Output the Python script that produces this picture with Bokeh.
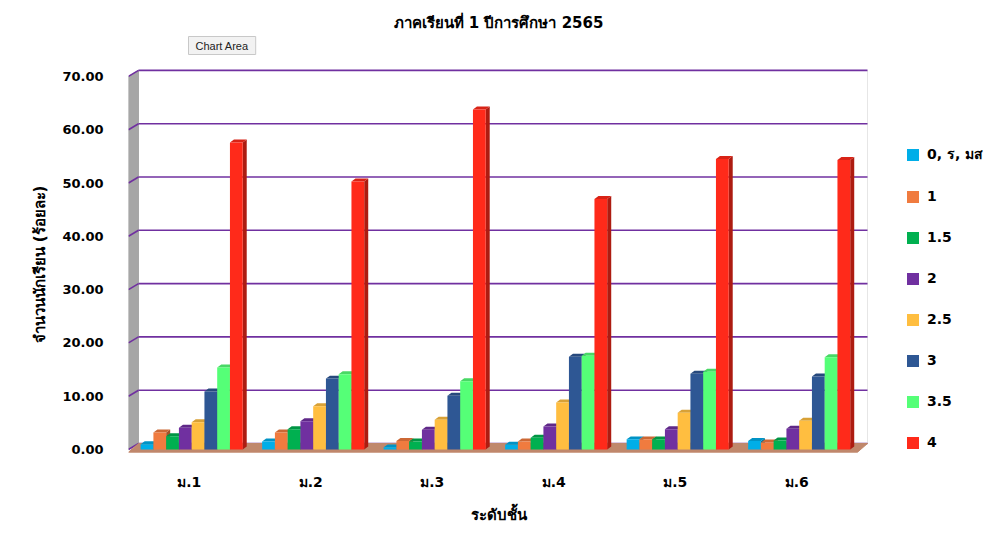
import numpy as np
from bokeh.plotting import figure
from bokeh.layouts import row
from bokeh.models import (Range1d, FixedTicker, PrintfTickFormatter, Legend, LegendItem,
                          Title, ColumnDataSource)
from bokeh.embed import file_html
from bokeh.resources import INLINE

# ---- data ----
categories = ["ม.1", "ม.2", "ม.3", "ม.4", "ม.5", "ม.6"]
series_names = ["0, ร, มส", "1", "1.5", "2", "2.5", "3", "3.5", "4"]
s_0 = [1.0, 1.5, 0.4, 0.9, 1.9, 1.6]
s_1 = [3.2, 3.2, 1.6, 1.5, 1.9, 1.3]
s_15 = [2.5, 3.8, 1.5, 2.2, 1.9, 1.7]
s_2 = [4.1, 5.3, 3.7, 4.3, 3.8, 3.9]
s_25 = [5.1, 8.1, 5.6, 8.8, 6.9, 5.4]
s_3 = [10.9, 13.3, 10.1, 17.4, 14.2, 13.7]
s_35 = [15.4, 14.1, 12.8, 17.6, 14.6, 17.3]
s_4 = [57.6, 50.3, 63.8, 47.0, 54.5, 54.3]
series_values = [s_0, s_1, s_15, s_2, s_25, s_3, s_35, s_4]
y_ticks = [0, 10, 20, 30, 40, 50, 60, 70]

# ---- style ----
colors = ["#00aee8", "#f07b3f", "#00b050", "#7030a0", "#ffbe40", "#2e5794", "#55ff77", "#ff2a1a"]
FONT = "DejaVu Sans"
DX, DY = 0.0823, 1.126          # wall depth offset (data units)
BW = 0.105                      # bar width
B0 = 0.10                       # first bar offset in group
SDX, SDY = 0.033, 0.56          # bar depth
PXU = 5.33                      # pixels per y unit
F_TOP, F_BOT, ZERO = 55, 473, 449   # frame top/bottom and zero line (pixels)


def shade(hexc, f):
    h = hexc.lstrip("#")
    r, g, b = (int(h[i:i + 2], 16) for i in (0, 2, 4))
    return "#%02x%02x%02x" % (int(r * f), int(g * f), int(b * f))


ncat = len(categories)
ymax = y_ticks[-1]

p = figure(width=868, height=539, x_range=Range1d(0, 6.0905),
           y_range=Range1d(-(F_BOT - ZERO) / PXU, (ZERO - F_TOP) / PXU),
           min_border_left=128, min_border_right=0, min_border_top=F_TOP,
           min_border_bottom=539 - F_BOT,
           output_backend="svg", toolbar_location=None)
p.outline_line_color = None
p.background_fill_color = "white"
p.border_fill_color = "white"
p.grid.visible = False

# back wall right edge
p.segment(x0=[ncat + DX], y0=[DY], x1=[ncat + DX], y1=[ymax + DY], line_color="#e6e6e6", line_width=1)

# left wall
p.patch(x=[0, DX, DX, 0], y=[0, DY, ymax + DY, ymax], fill_color="#a6a6a6", line_color="#a6a6a6")

# gridlines (back wall + left wall diagonal)
gy = np.array(y_ticks, dtype=float)
p.segment(x0=[DX] * len(gy), y0=gy + DY, x1=[ncat + DX] * len(gy), y1=gy + DY,
          line_color="#7030a0", line_width=1.6)
p.segment(x0=[0] * len(gy), y0=gy, x1=[DX] * len(gy), y1=gy + DY,
          line_color="#7030a0", line_width=1.6)

# floor
p.patch(x=[0, DX, ncat + DX, ncat], y=[-0.5, DY, DY, -0.5], fill_color="#c0886c", line_color="#c0886c")

# bars
sources = []
for j, (name, vals, col) in enumerate(zip(series_names, series_values, colors)):
    v = np.array(vals, dtype=float)
    left = np.arange(ncat) + B0 + j * BW
    right = left + BW
    side_xs = [[r, r + SDX, r + SDX, r] for r in right]
    side_ys = [[0, SDY, h + SDY, h] for h in v]
    top_xs = [[l, l + SDX, r + SDX, r] for l, r in zip(left, right)]
    top_ys = [[h, h + SDY, h + SDY, h] for h in v]
    p.patches(xs=side_xs, ys=side_ys, fill_color=shade(col, 0.68), line_color=None)
    p.patches(xs=top_xs, ys=top_ys, fill_color=shade(col, 0.85), line_color=None)
    src = ColumnDataSource(dict(left=left, right=right, top=v, bottom=np.zeros(ncat)))
    sources.append(src)
    p.quad(left="left", right="right", top="top", bottom="bottom", source=src,
           fill_color=col, line_color=None)

# axes
p.yaxis.ticker = FixedTicker(ticks=y_ticks)
p.yaxis.formatter = PrintfTickFormatter(format="%.2f")
p.yaxis.axis_line_color = None
p.yaxis.major_tick_line_color = None
p.yaxis.minor_tick_line_color = None
p.yaxis.major_tick_out = 0
p.yaxis.major_label_standoff = 25
p.yaxis.major_label_text_font = FONT
p.yaxis.major_label_text_font_style = "bold"
p.yaxis.major_label_text_font_size = "13px"
p.yaxis.major_label_text_color = "#000000"
p.yaxis.axis_label = "จำนวนนักเรียน (ร้อยละ)"
p.yaxis.axis_label_text_font = FONT
p.yaxis.axis_label_text_font_style = "bold"
p.yaxis.axis_label_text_font_size = "15px"
p.yaxis.axis_label_text_color = "#000000"
p.yaxis.axis_label_standoff = 10

p.xaxis.ticker = FixedTicker(ticks=[i + 0.5 for i in range(ncat)])
p.xaxis.major_label_overrides = {i + 0.5: c for i, c in enumerate(categories)}
p.xaxis.axis_line_color = None
p.xaxis.major_tick_line_color = None
p.xaxis.minor_tick_line_color = None
p.xaxis.major_tick_out = 0
p.xaxis.major_label_standoff = 0
p.xaxis.major_label_text_font = FONT
p.xaxis.major_label_text_font_style = "bold"
p.xaxis.major_label_text_font_size = "14px"
p.xaxis.major_label_text_color = "#000000"
p.xaxis.axis_label = "ระดับชั้น"
p.xaxis.axis_label_text_font = FONT
p.xaxis.axis_label_text_font_style = "bold"
p.xaxis.axis_label_text_font_size = "15px"
p.xaxis.axis_label_text_color = "#000000"
p.xaxis.axis_label_standoff = 13

# title
p.title.text = "ภาคเรียนที่ 1 ปีการศึกษา 2565"
p.title.align = "center"
p.title.offset = 125
p.title.text_font = FONT
p.title.text_font_style = "bold"
p.title.text_font_size = "15px"
p.title.text_color = "#000000"
p.title.standoff = 4

# "Chart Area" tooltip
chart_area = Title(text="Chart Area", align="left", offset=60, text_font="Liberation Sans",
                   text_font_size="11px", text_font_style="normal", text_color="#222222",
                   background_fill_color="#f2f2f2", border_line_color="#c8c8c8",
                   padding=(7, 3), standoff=2)
p.add_layout(chart_area, "above")

# legend (in a narrow companion figure to the right of the chart; its glyphs
# reference the same data sources, the view range keeps them out of sight)
q = figure(width=122, height=539, x_range=Range1d(-20, -19), y_range=Range1d(0, 1),
           min_border_left=0, min_border_right=0, min_border_top=F_TOP,
           min_border_bottom=539 - F_BOT,
           output_backend="svg", toolbar_location=None,
           x_axis_type=None, y_axis_type=None)
q.outline_line_color = None
q.grid.visible = False
legend_items = []
for name, col, src in zip(series_names, colors, sources):
    r = q.quad(left="left", right="right", top="top", bottom="bottom", source=src,
               fill_color=col, line_color=None)
    legend_items.append(LegendItem(label=name, renderers=[r]))
legend = Legend(items=legend_items, location=(37, F_BOT - 452), glyph_width=15, glyph_height=15,
                label_height=20, spacing=21, padding=0, margin=0,
                border_line_color=None, background_fill_alpha=0,
                label_text_font=FONT, label_text_font_style="bold", label_text_font_size="14px",
                label_text_color="#000000", label_standoff=7)
q.add_layout(legend)

layout = row(p, q)
open("out.html", "w").write(file_html(layout, INLINE))
